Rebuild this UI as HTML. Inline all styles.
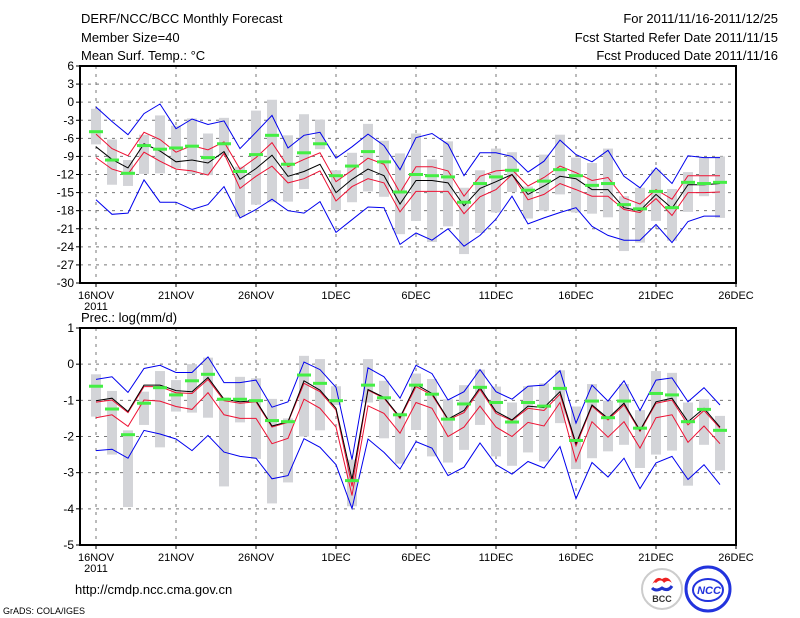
<!DOCTYPE html>
<html><head><meta charset="utf-8"><style>
body{margin:0;background:#fff;}
svg{display:block;font-family:"Liberation Sans",sans-serif;}
</style></head><body>
<svg id="c" width="800" height="618" xmlns="http://www.w3.org/2000/svg">
<g font-size="13" fill="#000">
<text x="81" y="23">DERF/NCC/BCC Monthly Forecast</text>
<text x="81" y="42">Member Size=40</text>
<text x="81" y="60">Mean Surf. Temp.: °C</text>
</g>
<g font-size="13" fill="#000" text-anchor="end">
<text x="778" y="23">For 2011/11/16-2011/12/25</text>
<text x="778" y="42">Fcst Started Refer Date 2011/11/15</text>
<text x="778" y="60">Fcst Produced Date 2011/11/16</text>
</g>
<text x="81" y="322" font-size="13">Prec.: log(mm/d)</text>
<text x="75" y="594" font-size="13">http://cmdp.ncc.cma.gov.cn</text>
<text x="3" y="614" font-size="9">GrADS: COLA/IGES</text>
<g>
<circle cx="662" cy="589" r="20" fill="#fff" stroke="#ccc" stroke-width="2"/>
<path d="M652 585 q4 -10 10 -6 q6 -4 10 4 q-4 -4 -8 0 q-3 -5 -8 0 q-2 -2 -4 2z" fill="#e22"/>
<path d="M652 588 q4 4 10 0 q6 4 10 -2" fill="none" stroke="#23c" stroke-width="3"/>
<text x="662" y="602" font-size="9" font-weight="bold" text-anchor="middle" fill="#333">BCC</text>
</g>
<g>
<circle cx="708" cy="589" r="22" fill="#fff" stroke="#23d" stroke-width="3"/>
<ellipse cx="708" cy="590" rx="15" ry="11" fill="none" stroke="#23d" stroke-width="2"/>
<text x="709" y="594" font-size="11" font-weight="bold" font-style="italic" text-anchor="middle" fill="#23d">NCC</text>
</g>
</svg>
<script>
// Temperature panel data (16NOV..25DEC)
const days = ['16NOV','21NOV','26NOV','1DEC','6DEC','11DEC','16DEC','21DEC','26DEC'];
const tTicks = [6,3,0,-3,-6,-9,-12,-15,-18,-21,-24,-27,-30];
const pTicks = [1,0,-1,-2,-3,-4,-5];
const tBlueHi = [-0.8,-3.2,-5.4,-1.9,-0.3,-4.4,-2.8,-3.7,-3.1,-7.7,-5.0,-2.2,-7.6,-5.5,-5.0,-9.3,-7.4,-5.3,-7.2,-11.2,-5.9,-5.2,-7.0,-12.2,-8.4,-8.4,-9.0,-11.6,-9.8,-6.3,-8.7,-9.9,-8.0,-12.3,-14.2,-10.9,-13.5,-8.9,-9.2,-9.2];
const tBlueLo = [-16.2,-18.6,-18.4,-12.9,-16.6,-16.6,-17.8,-17.0,-14.0,-19.2,-17.8,-16.1,-18.0,-18.4,-16.5,-21.6,-19.5,-17.4,-17.5,-23.6,-21.7,-22.9,-21.0,-23.9,-22.1,-19.4,-15.6,-20.2,-19.2,-18.3,-17.5,-20.6,-22.1,-22.9,-22.9,-20.3,-23.3,-19.8,-18.9,-18.9];
const tRedHi = [-5.3,-7.7,-8.9,-5.0,-6.2,-8.3,-7.2,-7.9,-6.6,-11.1,-9.2,-6.7,-10.7,-9.5,-8.4,-13.2,-11.3,-9.3,-10.3,-15.0,-10.7,-10.7,-11.4,-15.6,-12.3,-11.4,-11.2,-13.9,-12.5,-10.6,-11.7,-13.0,-12.5,-15.9,-16.9,-14.5,-16.1,-12.2,-12.2,-12.2];
const tRedLo = [-9.2,-11.1,-11.9,-8.3,-9.8,-11.1,-11.4,-12.1,-8.5,-14.3,-12.3,-10.6,-13.4,-12.7,-11.4,-16.4,-14.0,-12.7,-13.4,-18.2,-14.8,-14.8,-14.8,-18.5,-15.7,-14.5,-12.0,-16.2,-15.3,-13.5,-14.5,-15.6,-15.6,-17.8,-18.3,-16.0,-18.8,-15.0,-15.0,-14.9];
const tMean = [-7.4,-9.5,-10.9,-6.9,-8.1,-9.9,-9.6,-10.1,-8.2,-12.8,-11.0,-8.8,-12.3,-11.5,-10.3,-15.0,-12.8,-11.1,-12.2,-16.9,-13.0,-13.0,-13.4,-17.2,-14.3,-13.2,-12.0,-15.3,-13.9,-12.3,-12.7,-14.5,-14.5,-17.5,-18.0,-15.3,-17.6,-13.7,-13.7,-13.5];
const tObs = [-4.9,-9.6,-11.8,-7.2,-7.8,-7.6,-7.3,-9.2,-6.9,-11.5,-8.7,-5.5,-10.3,-8.4,-6.9,-12.2,-10.6,-8.2,-9.9,-14.9,-12.0,-12.2,-12.4,-16.6,-13.5,-12.4,-11.3,-14.6,-13.1,-11.2,-12.2,-13.8,-13.5,-17.0,-17.7,-14.8,-17.5,-13.3,-13.5,-13.3];
const tBarTop = [-1.1,-6.2,-9.6,-5.4,-2.2,-3.9,-2.7,-5.2,-2.6,-10.7,-1.4,0.4,-5.5,-2.0,-2.9,-11.3,-8.4,-3.6,-6.4,-8.5,-5.2,-9.5,-6.5,-14.2,-11.3,-7.7,-8.3,-14.0,-8.7,-5.4,-9.2,-10.1,-7.7,-15.6,-14.2,-11.2,-14.4,-11.6,-9.2,-9.0];
const tBarBot = [-7.0,-13.7,-13.9,-11.9,-11.8,-11.0,-11.9,-12.1,-8.9,-19.0,-17.0,-16.6,-16.5,-14.4,-7.8,-17.9,-16.6,-14.8,-15.7,-21.9,-19.7,-23.2,-20.6,-25.2,-21.7,-18.3,-14.9,-19.3,-18.0,-15.3,-18.3,-18.5,-19.1,-24.7,-23.3,-19.7,-23.0,-18.2,-15.6,-19.2];
// Precipitation panel data
const pBlueHi = [-0.42,-0.35,-0.78,-0.12,-0.03,-0.23,-0.23,0.20,-0.51,-0.51,-0.44,-1.19,-1.04,0.06,-0.15,-0.64,-2.64,-0.10,-0.35,-0.94,-0.03,-0.26,-0.99,-0.76,-0.15,-0.76,-0.97,-0.61,-0.58,-0.18,-1.63,-0.58,-1.02,-0.46,-1.28,-0.44,-0.38,-1.04,-0.65,-1.13];
const pBlueLo = [-2.39,-2.35,-2.60,-1.83,-1.93,-2.07,-2.39,-1.97,-2.43,-2.55,-2.60,-3.17,-3.08,-2.06,-2.30,-2.78,-3.99,-2.07,-2.44,-2.90,-2.14,-2.32,-3.08,-2.85,-2.18,-2.78,-3.04,-2.69,-2.87,-2.28,-3.72,-2.72,-3.12,-2.60,-3.44,-2.73,-2.55,-3.19,-2.78,-3.33];
const pRedHi = [-1.05,-0.99,-1.34,-0.62,-0.62,-0.79,-0.81,-0.42,-1.01,-1.08,-1.04,-1.74,-1.61,-0.53,-0.76,-1.27,-3.38,-0.72,-0.94,-1.50,-0.62,-0.85,-1.54,-1.34,-0.70,-1.36,-1.56,-1.22,-1.28,-0.83,-2.26,-1.16,-1.54,-1.13,-1.86,-1.08,-0.99,-1.68,-1.28,-1.77];
const pRedLo = [-1.48,-1.40,-1.72,-0.99,-1.02,-1.17,-1.25,-0.79,-1.40,-1.50,-1.50,-2.20,-2.05,-0.97,-1.22,-1.74,-3.63,-1.15,-1.36,-1.91,-1.06,-1.22,-2.00,-1.74,-1.16,-1.74,-2.00,-1.61,-1.71,-1.06,-2.69,-1.59,-2.02,-1.59,-2.32,-1.48,-1.40,-2.16,-1.71,-2.20];
const pMean = [-1.01,-0.94,-1.31,-0.58,-0.58,-0.73,-0.76,-0.37,-0.97,-1.04,-1.01,-1.71,-1.59,-0.46,-0.72,-1.22,-3.19,-0.70,-0.92,-1.47,-0.56,-0.81,-1.52,-1.28,-0.65,-1.31,-1.54,-1.16,-1.20,-0.76,-2.20,-1.13,-1.50,-1.08,-1.83,-1.04,-0.94,-1.59,-1.22,-1.74];
const pObs = [-0.61,-1.24,-1.95,-1.08,-0.65,-0.85,-0.46,-0.28,-0.97,-0.97,-1.01,-1.56,-1.59,-0.30,-0.53,-1.01,-3.22,-0.58,-0.93,-1.40,-0.58,-0.83,-1.52,-1.10,-0.64,-1.06,-1.60,-1.06,-1.16,-0.67,-2.11,-1.02,-1.48,-1.02,-1.77,-0.81,-0.85,-1.59,-1.25,-1.83];
const pBarTop = [-0.28,-0.74,-1.83,-0.76,-0.19,-0.44,0.0,0.18,-0.92,-0.35,-0.39,-0.96,-1.50,0.23,0.14,-0.61,-2.64,0.14,-0.46,-1.34,-0.26,-0.41,-0.97,-0.58,-0.15,-0.62,-1.06,-0.61,-0.53,-0.17,-1.17,-0.55,-1.01,-0.55,-1.27,-0.19,-0.24,-1.06,-0.97,-1.43];
const pBarBot = [-1.45,-2.50,-3.95,-1.68,-2.30,-1.31,-1.34,-1.48,-3.38,-1.61,-2.62,-3.85,-3.27,-2.00,-1.83,-1.13,-3.93,-1.06,-2.05,-2.75,-1.82,-2.55,-2.72,-2.37,-1.68,-2.55,-2.81,-2.44,-2.69,-1.63,-2.90,-2.60,-2.41,-2.23,-2.87,-2.50,-2.39,-3.36,-2.23,-2.94];

const NS='http://www.w3.org/2000/svg';
const svg=document.getElementById('c');
const X0=80, X1=736;
function xOf(i){return X0+16+16*i;}
function mk(tag,attrs,parent){const e=document.createElementNS(NS,tag);for(const k in attrs)e.setAttribute(k,attrs[k]);(parent||svg).appendChild(e);return e;}

function panel(name,top,bot,vmax,vmin,ticks,s){
  const g=mk('g',{});
  
  
  const y=v=>top+(vmax-v)/(vmax-vmin)*(bot-top);
  // grid
  ticks.forEach(t=>{
    if(t!==vmax&&t!==vmin){const l=mk('line',{x1:X0,x2:X1,y1:y(t),y2:y(t),stroke:'#777','stroke-dasharray':'3,5','stroke-width':1},g);
    
    }
    const tk=mk('line',{x1:X0-4,x2:X0,y1:y(t),y2:y(t),stroke:'#000'},g);
    
    
    const tx=mk('text',{x:X0-6,y:y(t)+4,'font-size':12,'text-anchor':'end'},g);
    tx.textContent=t;
    
    
  });
  days.forEach((d,k)=>{
    const xx=xOf(k*5);
    if(k<days.length-1){const l=mk('line',{x1:xx,x2:xx,y1:top,y2:bot,stroke:'#777','stroke-dasharray':'3,5'},g);
    
    }
    const tk=mk('line',{x1:xx,x2:xx,y1:bot,y2:bot+4,stroke:'#000'},g);
    
    
    const tx=mk('text',{x:xx,y:bot+16,'font-size':11,'text-anchor':'middle'},g);
    tx.textContent=d;
    
    
  });
  const yr=mk('text',{x:xOf(0),y:bot+27,'font-size':11,'text-anchor':'middle'},g);
  yr.textContent='2011';
  
  
  // bars
  s.barTop.forEach((v,i)=>{
    const r=mk('rect',{x:xOf(i)-5,y:y(v),width:10,height:y(s.barBot[i])-y(v),fill:'#d3d4d8'},g);
    
    
  });
  const line=(arr,col,nm,w)=>{
    const p=mk('polyline',{points:arr.map((v,i)=>xOf(i)+','+y(v).toFixed(1)).join(' '),fill:'none',stroke:col,'stroke-width':w||1},g);
    
    
  };
  line(s.blueHi,'#0000ee','blue-upper-line');
  line(s.blueLo,'#0000ee','blue-lower-line');
  line(s.redHi,'#ee1133','red-upper-line');
  line(s.redLo,'#ee1133','red-lower-line');
  line(s.mean,'#000','ensemble-mean-line');
  s.obs.forEach((v,i)=>{
    const r=mk('rect',{x:xOf(i)-7,y:y(v)-1.5,width:14,height:3,fill:'#44ee44'},g);
    
    
  });
  const fr=mk('rect',{x:X0,y:top,width:X1-X0,height:bot-top,fill:'none',stroke:'#000','stroke-width':2},g);
  
  
}
panel('temperature-panel',66,283,6,-30,tTicks,{blueHi:tBlueHi,blueLo:tBlueLo,redHi:tRedHi,redLo:tRedLo,mean:tMean,obs:tObs,barTop:tBarTop,barBot:tBarBot});
panel('precip-panel',328,545,1,-5,pTicks,{blueHi:pBlueHi,blueLo:pBlueLo,redHi:pRedHi,redLo:pRedLo,mean:pMean,obs:pObs,barTop:pBarTop,barBot:pBarBot});
</script>
</body></html>
